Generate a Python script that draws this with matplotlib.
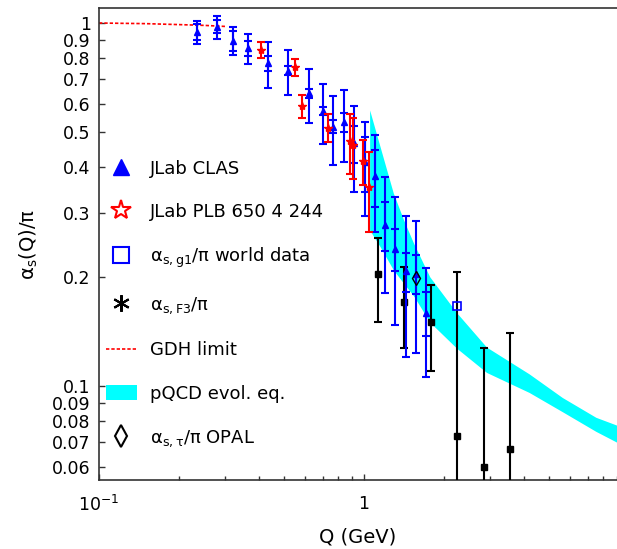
import matplotlib
matplotlib.use('Agg')
import matplotlib.pyplot as plt
import numpy as np
from matplotlib.lines import Line2D
from matplotlib.patches import Patch
from matplotlib.ticker import NullLocator, NullFormatter, LogLocator

plt.rcParams['font.family'] = ['DejaVu Sans']
plt.rcParams['mathtext.fontset'] = 'dejavusans'

# JLab CLAS (blue), total and inner error
clas_q = [0.234, 0.278, 0.319, 0.364, 0.436, 0.518, 0.618, 0.702, 0.766,
          0.843, 0.917, 1.009, 1.103, 1.203, 1.313, 1.437, 1.567, 1.714]
clas_a = [0.944, 0.977, 0.894, 0.852, 0.774, 0.739, 0.640, 0.572, 0.518,
          0.533, 0.466, 0.414, 0.379, 0.278, 0.239, 0.207, 0.204, 0.159]
clas_tot = [0.068, 0.071, 0.080, 0.083, 0.110, 0.105, 0.108, 0.109, 0.111,
            0.120, 0.123, 0.120, 0.114, 0.098, 0.092, 0.087, 0.081, 0.053]
clas_in = [0.048, 0.040, 0.055, 0.042, 0.035, 0.021, 0.020, 0.015, 0.021,
           0.033, 0.055, 0.072, 0.068, 0.043, 0.032, 0.026, 0.025, 0.022]

# JLab PLB 650 4 244 (red)
plb_q = [0.407, 0.551, 0.583, 0.729, 0.888, 0.905, 0.989, 1.047]
plb_a = [0.843, 0.755, 0.591, 0.515, 0.473, 0.460, 0.417, 0.353]
plb_err = [0.044, 0.042, 0.044, 0.046, 0.090, 0.088, 0.058, 0.088]

# alpha_s,F3 (black)
f3_q = [1.126, 1.419, 1.785, 2.244, 2.829, 3.556]
f3_a = [0.203, 0.170, 0.150, 0.073, 0.060, 0.067]
f3_err = [0.053, 0.043, 0.040, 0.133, 0.067, 0.073]

# world data and OPAL
g1_q = [2.244]
g1_a = [0.166]
opal_q = [1.567]
opal_a = [0.198]

# GDH limit
gdh_q = [0.1, 0.15, 0.2, 0.25, 0.304]
gdh_a = [1.0, 0.996, 0.99, 0.985, 0.978]

# pQCD band
band_q = [1.05, 1.15, 1.29, 1.41, 1.54, 1.77, 2.24, 2.9, 4.2, 5.6, 7.5, 9.0]
band_hi = [0.576, 0.456, 0.340, 0.287, 0.247, 0.200, 0.159, 0.128, 0.108, 0.093, 0.082, 0.078]
band_lo = [0.269, 0.242, 0.209, 0.192, 0.177, 0.150, 0.127, 0.109, 0.096, 0.085, 0.075, 0.070]

ytick_vals = [0.06, 0.07, 0.08, 0.09, 0.1, 0.2, 0.3, 0.4, 0.5, 0.6, 0.7, 0.8, 0.9, 1]
ytick_labels = ['0.06', '0.07', '0.08', '0.09', '0.1', '0.2', '0.3', '0.4',
                '0.5', '0.6', '0.7', '0.8', '0.9', '1']

fig = plt.figure(figsize=(6.17, 5.49), dpi=100)
ax = fig.add_axes([0.1605, 0.1257, 0.8395, 0.8597])
ax.set_xscale('log')
ax.set_yscale('log')

ax.fill_between(band_q, band_lo, band_hi, color='cyan', lw=0, zorder=1)
ax.plot(gdh_q, gdh_a, color='red', lw=1.2, dashes=(2, 1.2), zorder=2)

ax.errorbar(f3_q, f3_a, yerr=f3_err, fmt='s', color='black', ms=4,
            elinewidth=1.5, capsize=3, capthick=1.5, zorder=3)
ax.errorbar(clas_q, clas_a, yerr=clas_tot, fmt='^', color='blue', ms=4,
            elinewidth=1.5, capsize=3, capthick=1.5, zorder=4)
ax.errorbar(clas_q, clas_a, yerr=clas_in, fmt='none', ecolor='blue',
            elinewidth=1.5, capsize=3, capthick=1.5, zorder=4)
ax.errorbar(plb_q, plb_a, yerr=plb_err, fmt='*', color='red', ms=6,
            elinewidth=1.5, capsize=3, capthick=1.5, zorder=5)
ax.plot(g1_q, g1_a, ls='none', marker='s', mfc='none', mec='blue', ms=6, mew=1.2, zorder=6)
ax.plot(opal_q, opal_a, ls='none', marker='d', mfc='none', mec='black', ms=7, mew=1.0, zorder=6)

ax.set_xlim(0.1, 9.01)
ax.set_ylim(0.0551, 1.0998)

ax.set_xticks([0.1, 1])
ax.set_xticklabels(['10$^{-1}$', '1'])
ax.xaxis.set_minor_locator(LogLocator(base=10, subs=np.arange(2, 10)))
ax.xaxis.set_minor_formatter(NullFormatter())
ax.set_yticks(ytick_vals)
ax.set_yticklabels(ytick_labels)
ax.yaxis.set_minor_locator(NullLocator())

ax.tick_params(which='both', direction='in', labelsize=12.5, colors='#333333', labelcolor='black')
ax.tick_params(which='major', length=4, width=1)
ax.tick_params(which='minor', length=3, width=1)
ax.tick_params(axis='y', pad=6)
ax.tick_params(axis='x', pad=11)
ax.tick_params(top=False, right=False)
ax.spines['right'].set_visible(False)
for s in ['left', 'bottom', 'top']:
    ax.spines[s].set_color('#333333')
    ax.spines[s].set_linewidth(1.2)

ax.set_xlabel('Q (GeV)', fontsize=14, labelpad=9)
ax.set_ylabel('α$_{\\rm s}$(Q)/π', fontsize=14, labelpad=9)

handles = [
    Line2D([], [], ls='none', marker='^', color='blue', ms=11),
    Line2D([], [], ls='none', marker='*', mfc='none', mec='red', ms=15, mew=1.5),
    Line2D([], [], ls='none', marker='s', mfc='none', mec='blue', ms=11, mew=1.5),
    Line2D([], [], ls='none', marker=(6, 2, 0), color='black', ms=12, mew=1.5),
    Line2D([], [], color='red', lw=1.2, dashes=(2, 1.2)),
    Patch(facecolor='cyan', edgecolor='none'),
    Line2D([], [], ls='none', marker='d', mfc='none', mec='black', ms=11, mew=1.5),
]
labels = ['JLab CLAS', 'JLab PLB 650 4 244', 'α$_{\\rm s,g1}$/π world data',
          'α$_{\\rm s,F3}$/π', 'GDH limit', 'pQCD evol. eq.', 'α$_{\\rm s,τ}$/π OPAL']
ax.legend(handles, labels, loc='upper left', bbox_to_anchor=(0.0135, 0.679),
          frameon=False, fontsize=13, borderpad=0, borderaxespad=0,
          handlelength=1.7, handleheight=0.9, handletextpad=0.72, labelspacing=1.40)

fig.savefig('out.png', dpi=100)
